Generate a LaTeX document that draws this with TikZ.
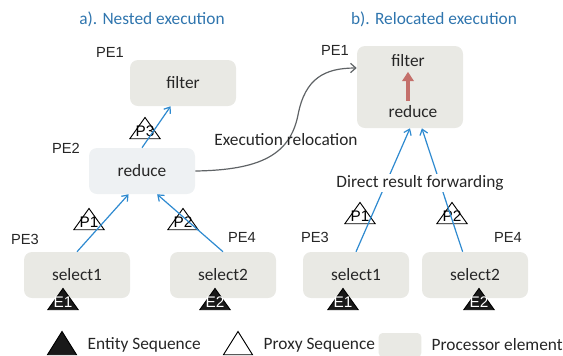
\documentclass[tikz,border=0pt]{standalone}
\usepackage{fontspec}
\setmainfont{Carlito}
\newfontfamily\pefont{Liberation Sans}
\usetikzlibrary{positioning,arrows.meta,shapes.geometric}
\definecolor{peGray}{HTML}{E9E9E4}
\definecolor{peBlue}{HTML}{EEF1F3}
\definecolor{titleBlue}{HTML}{2F75AE}
\definecolor{flowBlue}{HTML}{2E8AD0}
\definecolor{relocGray}{HTML}{5F6366}
\definecolor{fwdRed}{HTML}{C4706B}
\tikzset{
    proc/.style={
        rectangle, rounded corners=6pt,
        fill=peGray, minimum width=79.5pt,
        minimum height=34.5pt, text=black!85,
        font=\fontsize{13}{15}\selectfont
    },
    pelabel/.style={
        font=\pefont\fontsize{11}{13}\selectfont, text=black!85
    },
    title/.style={
        font=\fontsize{13}{15}\selectfont, text=titleBlue
    },
    plain/.style={
        font=\fontsize{13}{15}\selectfont, text=black!85
    },
    proxy/.style={
        rectangle, inner sep=0pt,
        minimum width=24pt, minimum height=17pt,
        text height=13pt, text depth=0pt,
        font=\pefont\fontsize{11.5}{12}\selectfont,
        path picture={
            \draw[line width=0.7pt, fill=#1]
                ([shift={(0.6pt,0.45pt)}]path picture bounding box.south west)
                -- ([yshift=-0.6pt]path picture bounding box.north)
                -- ([shift={(-0.6pt,0.45pt)}]path picture bounding box.south east)
                -- cycle;
        }
    },
    proxy/.default=none,
    entity/.style={
        proxy=black!90, text=white
    },
    flow/.style={
        draw=flowBlue, line width=0.9pt,
        -{Straight Barb[length=4pt,width=6pt]}
    }
}

\begin{document}
\begin{tikzpicture}[x=0.75pt, y=-0.75pt]

        \useasboundingbox (0,0) rectangle (563,355);

        % Titles
        \node[title] (ta) at (152,19) {a). Nested execution};
        \node[title] (tb) at (434,19) {b). Relocated execution};

        % a) processor elements
        \node[proc] (filtera) at (183,83) {filter};
        \node[proc, fill=peBlue] (reducea) at (142,171) {reduce};
        \node[proc] (sel1a) at (77,275) {select1};
        \node[proc] (sel2a) at (223,275) {select2};

        \node[pelabel] (pe1a) at (110,52) {PE1};
        \node[pelabel] (pe2a) at (66,148) {PE2};
        \node[pelabel] (pe3a) at (25,239) {PE3};
        \node[pelabel] (pe4a) at (242,237) {PE4};

        % a) sequences
        \node[proxy] (p3a) at (145,128) {P3};
        \node[proxy] (p1a) at (89,219) {P1};
        \node[proxy] (p2a) at (183,219) {P2};
        \node[entity] (e1a) at (63,299) {E1};
        \node[entity] (e2a) at (215,299) {E2};

        % a) flows
        \draw[flow] (reducea.north) -- (filtera.242);
        \draw[flow] (sel1a.north) -- (reducea.240);
        \draw[flow] (sel2a.north) -- (reducea.303);

        % b) processor elements
        \node[proc, minimum height=61.5pt] (procb) at (410,87) {};
        \node[plain] (filterb) at (408,61) {filter};
        \node[plain] (reduceb) at (413,112) {reduce};
        \node[proc] (sel1b) at (356,275) {select1};
        \node[proc] (sel2b) at (475,275) {select2};

        \node[pelabel] (pe1b) at (335,50) {PE1};
        \node[pelabel] (pe3b) at (315,237) {PE3};
        \node[pelabel] (pe4b) at (508,237) {PE4};

        \draw[fwdRed, line width=3pt, -{Triangle[width=8.5pt,length=7pt]}]
            (reduceb.north -| filterb.south) -- (filterb.south);

        % b) sequences
        \node[proxy] (p1b) at (360,213) {P1};
        \node[proxy] (p2b) at (452,213) {P2};
        \node[entity] (e1b) at (343,299) {E1};
        \node[entity] (e2b) at (479,299) {E2};

        % b) flows
        \draw[flow] (sel1b.north) -- (procb.south);
        \draw[flow] (sel2b.118) -- (procb.286);
        \node[plain, fill=white, inner sep=1pt] (fwd) at (420,183)
            {Direct result forwarding};

        % Relocation
        \draw[relocGray, line width=0.9pt, -{Straight Barb[length=4pt,width=7pt]}]
            (reducea.east) .. controls (260,170) and (290,155) .. (298,115)
            .. controls (305,78) and (325,68) .. (procb.west |- 0,68);
        \node[plain] (reloc) at (286,140) {Execution relocation};

        % Legend
        \node[entity, minimum width=23pt, minimum height=18.5pt] (lgent) at (62,343) {};
        \node[plain, anchor=west] (lgenttxt) at (83,345) {Entity Sequence};
        \node[proxy, minimum width=23pt, minimum height=18.5pt] (lgprox) at (238,343) {};
        \node[plain, anchor=west] (lgproxtxt) at (259,345) {Proxy Sequence};
        \node[proc, minimum width=32pt, minimum height=18pt, rounded corners=3pt]
            (lgproc) at (400,345) {};
        \node[plain, anchor=west] (lgproctxt) at (427,345) {Processor element};

    \end{tikzpicture}
\end{document}
